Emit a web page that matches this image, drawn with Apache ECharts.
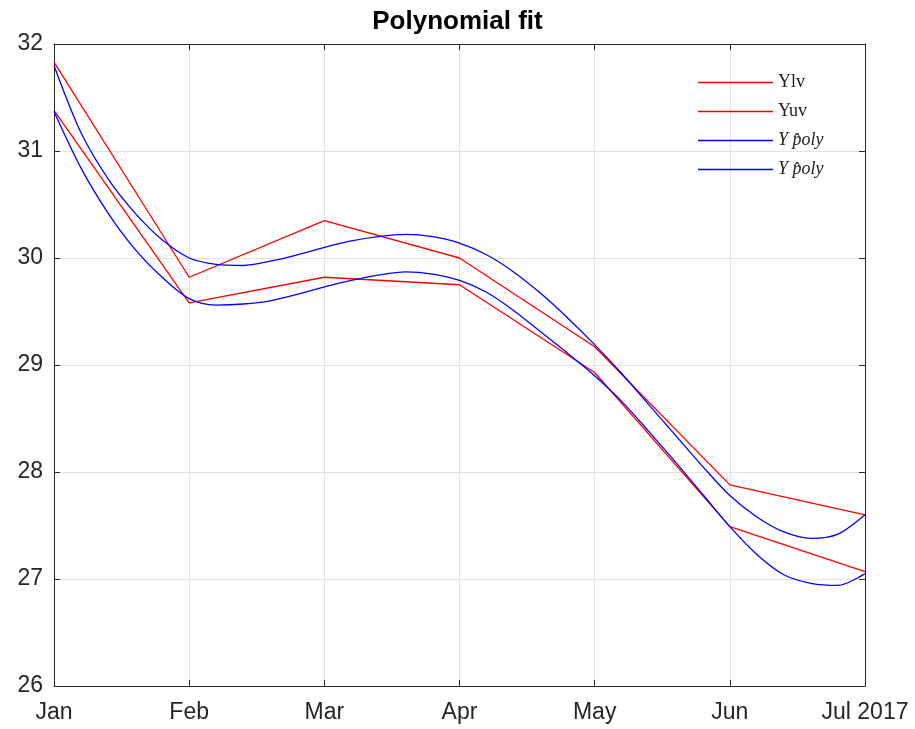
<!DOCTYPE html>
<html>
<head>
<meta charset="utf-8">
<script src="https://cdn.jsdelivr.net/npm/echarts@6/dist/echarts.min.js"></script>
<style>html,body{margin:0;padding:0;background:#fff}#c{width:915px;height:729px}</style>
</head>
<body>
<div id="c"></div>
<script>
// Categories (month positions 0..6) and tick labels
const monthLabels = ['Jan', 'Feb', 'Mar', 'Apr', 'May', 'Jun', 'Jul 2017'];
const monthPos = [0, 1, 2, 3, 4, 5, 6];

// Red piecewise series (values at month positions)
const yuv = [31.83, 29.82, 30.35, 30.00, 29.17, 27.88, 27.60];
const ylv = [31.38, 29.58, 29.82, 29.75, 28.93, 27.49, 27.07];

// Blue polynomial fits at 0.2-month steps
const polyX = [0, 0.2, 0.4, 0.6, 0.8, 1.0, 1.2, 1.4, 1.6, 1.8, 2.0, 2.2, 2.4, 2.6, 2.8, 3.0, 3.2, 3.4, 3.6, 3.8, 4.0, 4.2, 4.4, 4.6, 4.8, 5.0, 5.2, 5.4, 5.6, 5.8, 6.0];
const polyUpperY = [31.80, 31.17, 30.74, 30.42, 30.17, 30.00, 29.94, 29.93, 29.97, 30.03, 30.10, 30.16, 30.20, 30.22, 30.20, 30.14, 30.03, 29.87, 29.67, 29.44, 29.19, 28.92, 28.63, 28.34, 28.05, 27.78, 27.58, 27.44, 27.38, 27.42, 27.60];
const polyLowerY = [31.37, 30.84, 30.42, 30.08, 29.82, 29.62, 29.56, 29.57, 29.60, 29.66, 29.73, 29.79, 29.84, 29.87, 29.85, 29.79, 29.68, 29.51, 29.31, 29.11, 28.90, 28.66, 28.38, 28.09, 27.79, 27.49, 27.23, 27.04, 26.96, 26.94, 27.05];

const pair = (xs, ys) => xs.map((x, i) => [x, ys[i]]);

const axisColor = '#262626';
const gridColor = '#e3e3e3';
const sans = 'Liberation Sans, Arial, sans-serif';
const serif = 'Liberation Serif, Times New Roman, serif';
const labelFont = {color: '#262626', fontSize: 23, fontFamily: sans};

const chart = echarts.init(document.getElementById('c'), null, {renderer: 'canvas'});
chart.setOption({
  animation: false,
  backgroundColor: '#fff',
  title: {
    text: 'Polynomial fit',
    left: 'center',
    top: 4,
    textStyle: {fontSize: 26, fontWeight: 'bold', color: '#000', fontFamily: sans}
  },
  grid: {left: 54, right: 50, top: 44, bottom: 43, show: false},
  legend: {
    orient: 'vertical',
    left: 693,
    top: 63,
    icon: 'rect',
    itemWidth: 75,
    itemHeight: 1.4,
    itemGap: 0,
    data: ['Ylv', 'Yuv', 'Ypoly1', 'Ypoly2'],
    formatter: function (name) {
      if (name.indexOf('Ypoly') === 0) return '{i|Y p\u0302oly}';
      return name;
    },
    textStyle: {
      fontSize: 18,
      lineHeight: 29,
      color: '#222',
      fontFamily: serif,
      rich: {i: {fontSize: 18, lineHeight: 29, fontStyle: 'italic', color: '#222', fontFamily: serif}}
    }
  },
  xAxis: [{
    type: 'value', min: 0, max: 6, interval: 1, position: 'bottom',
    axisLine: {show: true, onZero: false, lineStyle: {color: axisColor, width: 1}},
    axisTick: {show: true, inside: true, length: 6, lineStyle: {color: axisColor}},
    axisLabel: Object.assign({margin: 15, formatter: v => monthLabels[monthPos.indexOf(v)] ?? ''}, labelFont),
    splitLine: {show: true, lineStyle: {color: gridColor, width: 1}}
  }, {
    type: 'value', min: 0, max: 6, interval: 1, position: 'top',
    axisLine: {show: true, onZero: false, lineStyle: {color: axisColor, width: 1}},
    axisTick: {show: true, inside: true, length: 6, lineStyle: {color: axisColor}},
    axisLabel: {show: false}, splitLine: {show: false}
  }],
  yAxis: [{
    type: 'value', min: 26, max: 32, interval: 1, position: 'left',
    axisLine: {show: true, onZero: false, lineStyle: {color: axisColor, width: 1}},
    axisTick: {show: true, inside: true, length: 6, lineStyle: {color: axisColor}},
    axisLabel: Object.assign({margin: 11}, labelFont),
    splitLine: {show: true, lineStyle: {color: gridColor, width: 1}}
  }, {
    type: 'value', min: 26, max: 32, interval: 1, position: 'right',
    axisLine: {show: true, onZero: false, lineStyle: {color: axisColor, width: 1}},
    axisTick: {show: true, inside: true, length: 6, lineStyle: {color: axisColor}},
    axisLabel: {show: false}, splitLine: {show: false}
  }],
  series: [
    {name: 'Ylv', type: 'line', symbol: 'none', data: pair(monthPos, ylv), lineStyle: {color: '#ff0000', width: 1.3}, itemStyle: {color: '#ff0000'}},
    {name: 'Yuv', type: 'line', symbol: 'none', data: pair(monthPos, yuv), lineStyle: {color: '#ff0000', width: 1.3}, itemStyle: {color: '#ff0000'}},
    {name: 'Ypoly1', type: 'line', symbol: 'none', smooth: 0.3, data: pair(polyX, polyUpperY), lineStyle: {color: '#0000ff', width: 1.3}, itemStyle: {color: '#0000ff'}},
    {name: 'Ypoly2', type: 'line', symbol: 'none', smooth: 0.3, data: pair(polyX, polyLowerY), lineStyle: {color: '#0000ff', width: 1.3}, itemStyle: {color: '#0000ff'}}
  ]
});
</script>
</body>
</html>
